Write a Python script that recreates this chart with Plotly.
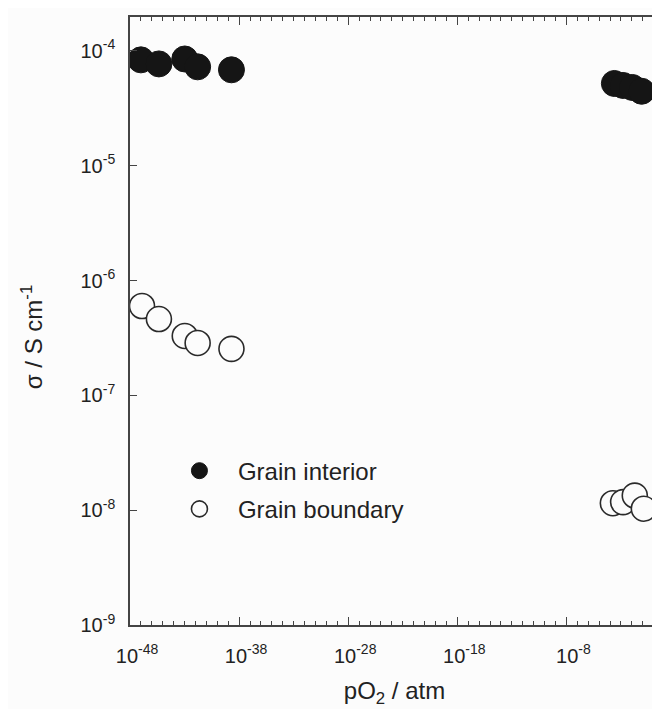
import plotly.graph_objects as go

# ---- data ----
series_names = ["Grain interior", "Grain boundary"]
log_po2_interior = [-47.0, -45.35, -42.98, -41.8, -38.7, -3.6, -2.8, -1.95, -1.1]
sigma_interior = [8.35e-5, 7.7e-5, 8.5e-5, 7.26e-5, 6.84e-5, 5.2e-5, 5.0e-5, 4.8e-5, 4.45e-5]
log_po2_boundary = [-46.9, -45.35, -42.98, -41.8, -38.7, -3.74, -2.8, -1.73, -0.9]
sigma_boundary = [6.0e-7, 4.62e-7, 3.29e-7, 2.86e-7, 2.54e-7, 1.15e-8, 1.175e-8, 1.34e-8, 1.03e-8]

x_tick_exps = [-48, -38, -28, -18, -8]
x_tick_labels = ["10<sup>-48</sup>", "10<sup>-38</sup>", "10<sup>-28</sup>", "10<sup>-18</sup>", "10<sup>-8</sup>"]
x_minor_exps = list(range(-48, 1))
y_tick_exps = [-9, -8, -7, -6, -5, -4]
y_tick_labels = ["10<sup>-9</sup>", "10<sup>-8</sup>", "10<sup>-7</sup>", "10<sup>-6</sup>", "10<sup>-5</sup>", "10<sup>-4</sup>"]

FONT = "Liberation Sans, Arial, Helvetica, sans-serif"
INK = "#222222"
AXIS = "#444444"
BG = "#fcfcfc"

fig = go.Figure()
fig.add_trace(go.Scatter(
    x=[10 ** v for v in log_po2_interior], y=sigma_interior,
    mode="markers", name=series_names[0], legendgroup="gi",
    marker=dict(symbol="circle", size=26, color="#151515",
                line=dict(color="#151515", width=1)),
    cliponaxis=True,
))
fig.add_trace(go.Scatter(
    x=[10 ** v for v in log_po2_boundary], y=sigma_boundary,
    mode="markers", name=series_names[1], legendgroup="gb",
    marker=dict(symbol="circle", size=25, color=BG,
                line=dict(color="#2a2a2a", width=1.6)),
    cliponaxis=True,
))

# plot area (page coords): x 130..660, y 15..625 ; figure is offset by the 8px page margin
fig.update_layout(
    width=660, height=709,
    margin=dict(l=122, r=8, t=7, b=92),
    paper_bgcolor=BG, plot_bgcolor=BG,
    font=dict(family=FONT, color=INK, size=20),
    showlegend=True,
    legend=dict(
        x=(161 - 130) / 530, y=(625 - 448) / 610, xanchor="left", yanchor="top",
        bgcolor="rgba(0,0,0,0)", font=dict(size=24, family=FONT, color=INK),
        itemsizing="trace", itemwidth=67, tracegroupgap=4, traceorder="grouped",
    ),
    xaxis=dict(
        type="log", range=[-48, 0.49],
        tickmode="array", tickvals=[10.0 ** e for e in x_tick_exps], ticktext=x_tick_labels,
        ticks="inside", ticklen=8, tickwidth=1.4, tickcolor=AXIS,
        showline=True, linecolor=AXIS, linewidth=1.6, mirror="ticks",
        showgrid=False, zeroline=False,
        ticklabelshift=7, ticklabelstandoff=12,
        tickfont=dict(size=20, family=FONT, color=INK),
        minor=dict(tickmode="array", tickvals=[10.0 ** e for e in x_minor_exps],
                   ticks="inside", ticklen=4, tickwidth=1.2, tickcolor=AXIS, showgrid=False),
        title=dict(text="pO<sub>2</sub> / atm", font=dict(size=24, family=FONT, color=INK), standoff=16),
    ),
    yaxis=dict(
        type="log", range=[-9, -3.705],
        tickmode="array", tickvals=[10.0 ** e for e in y_tick_exps], ticktext=y_tick_labels,
        ticks="inside", ticklen=7, tickwidth=1.4, tickcolor=AXIS,
        showline=True, linecolor=AXIS, linewidth=1.6, mirror="ticks",
        showgrid=False, zeroline=False,
        ticklabelstandoff=9,
        tickfont=dict(size=20, family=FONT, color=INK),
    ),
    annotations=[dict(
        text="σ / S cm<sup>-1</sup>", textangle=-90,
        xref="paper", yref="paper", x=(32 - 130) / 530, y=(625 - 336) / 610,
        xanchor="center", yanchor="middle", showarrow=False,
        font=dict(size=24, family=FONT, color=INK),
    )],
)

fig.write_html("out.html")
